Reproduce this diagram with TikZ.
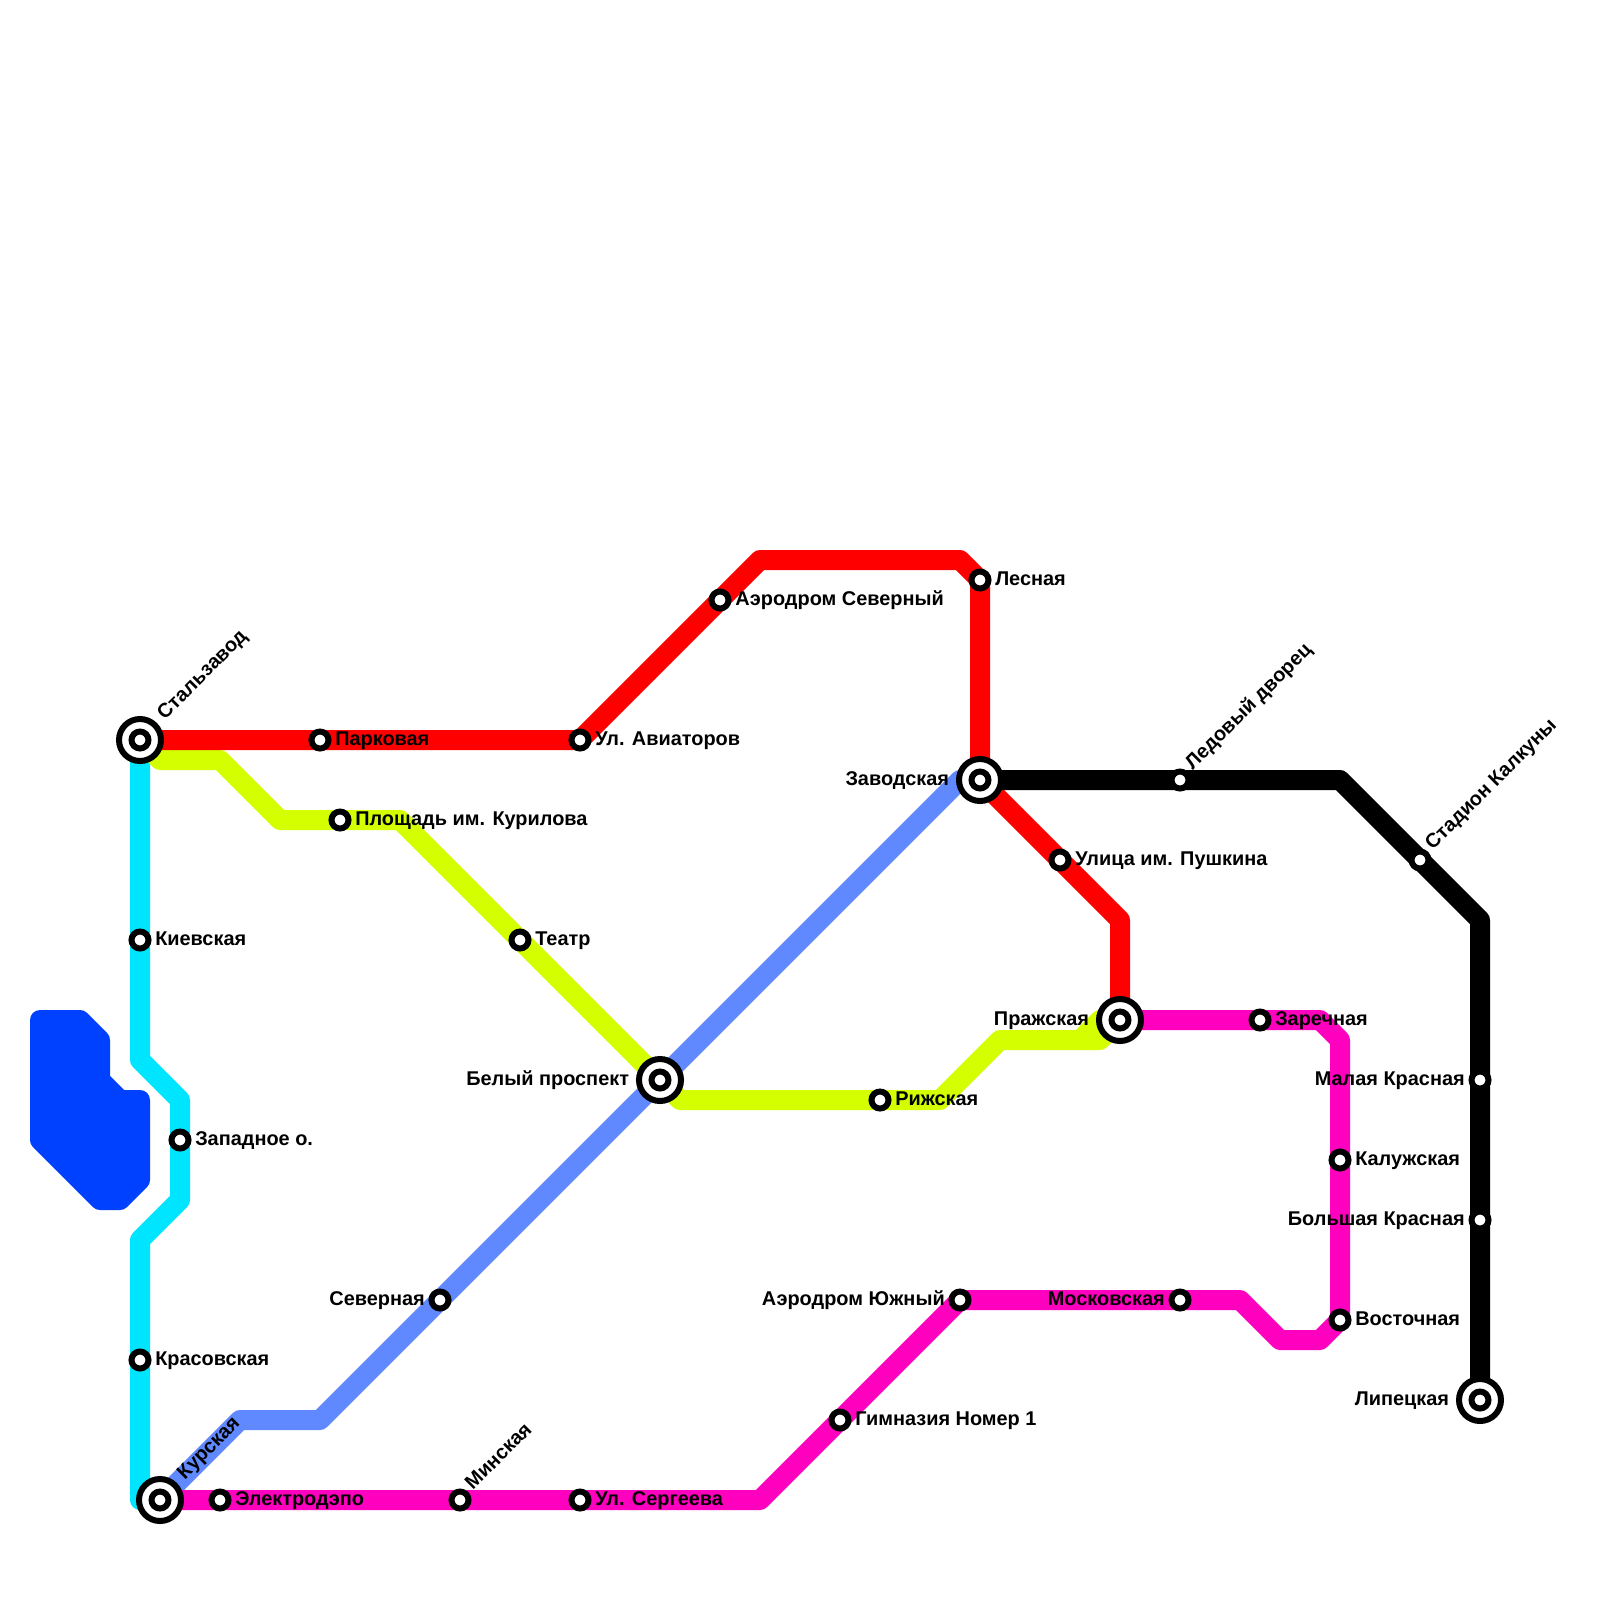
\documentclass[tikz,border=0pt]{standalone}
\usepackage{fontspec}
\setmainfont{Liberation Sans}
\usetikzlibrary{positioning,backgrounds}
\definecolor{redline}{HTML}{FF0000}
\definecolor{blackline}{HTML}{000000}
\definecolor{cyanline}{HTML}{00E5FF}
\definecolor{limeline}{HTML}{D4FF00}
\definecolor{pinkline}{HTML}{FF00BF}
\definecolor{skyline}{HTML}{6189FF}
\definecolor{water}{HTML}{0040FF}
\tikzset{
  metro/.style={line width=.25cm,line join=round},
  stop/.style={circle,draw=black,fill=white,line width=.075cm,inner sep=0pt,minimum size=.2125cm},
  hub/.style={stop,minimum size=.525cm,path picture={\draw[line width=.075cm,fill=white](path picture bounding box.center) circle (.106cm);}},
  txt/.style={font=\bfseries\fontsize{7.08}{8}\selectfont,inner sep=0pt,text height=3.8pt,text depth=0pt},
  slant/.style={txt,anchor=west,rotate=45},
}
\begin{document}
\begin{tikzpicture}[x=.25cm,y=-.25cm]
\useasboundingbox (0,0) rectangle (80,80);
\node[hub] (stalzavod) at (7,37) {};
\node[stop] (kievskaya) at (7,47) {};
\node[stop] (zapadnoe) at (9,57) {};
\node[stop] (krasovskaya) at (7,68) {};
\node[hub] (kurskaya) at (8,75) {};
\node[stop] (elektrodepo) at (11,75) {};
\node[stop] (minskaya) at (23,75) {};
\node[stop] (sergeeva) at (29,75) {};
\node[stop] (gimnaziya) at (42,71) {};
\node[stop] (yuzhny) at (48,65) {};
\node[stop] (moskovskaya) at (59,65) {};
\node[stop] (vostochnaya) at (67,66) {};
\node[stop] (kaluzhskaya) at (67,58) {};
\node[stop] (zarechnaya) at (63,51) {};
\node[hub] (prazhskaya) at (56,51) {};
\node[stop] (pushkina) at (53,43) {};
\node[hub] (zavodskaya) at (49,39) {};
\node[stop] (lesnaya) at (49,29) {};
\node[stop] (severny) at (36,30) {};
\node[stop] (aviatorov) at (29,37) {};
\node[stop] (parkovaya) at (16,37) {};
\node[stop] (kurilova) at (17,41) {};
\node[stop] (teatr) at (26,47) {};
\node[hub] (bely) at (33,54) {};
\node[stop] (rizhskaya) at (44,55) {};
\node[stop] (severnaya) at (22,65) {};
\node[stop] (ledovy) at (59,39) {};
\node[stop] (kalkuny) at (71,43) {};
\node[stop] (malaya) at (74,54) {};
\node[stop] (bolshaya) at (74,61) {};
\node[hub] (lipetskaya) at (74,70) {};
\begin{scope}[on background layer]
\fill[water,draw=water,metro] (2,51)--(4,51)--(5,52)--(5,54)--(6,55)--(7,55)--(7,59)--(6,60)--(5,60)--(2,57)--cycle;
\draw[cyanline,metro] (stalzavod.center)--(kievskaya.center)--(7,53)--(9,55)--(zapadnoe.center)--(9,60)--(7,62)--(krasovskaya.center)--(7,75)--(kurskaya.center);
\draw[limeline,metro] (stalzavod.center)--(8,38)--(11,38)--(14,41)--(kurilova.center)--(20,41)--(teatr.center)--(bely.center)--(34,55)--(rizhskaya.center)--(47,55)--(50,52)--(55,52)--(prazhskaya.center);
\draw[limeline,metro] (54,52)--(55,51)--(prazhskaya.center);
\draw[skyline,metro] (kurskaya.center)--(12,71)--(16,71)--(severnaya.center)--(bely.center)--(48,39)--(zavodskaya.center);
\draw[redline,metro] (stalzavod.center)--(parkovaya.center)--(aviatorov.center)--(severny.center)--(38,28)--(48,28)--(lesnaya.center)--(zavodskaya.center)--(pushkina.center)--(56,46)--(prazhskaya.center);
\draw[blackline,metro] (zavodskaya.center)--(ledovy.center)--(67,39)--(kalkuny.center)--(74,46)--(malaya.center)--(bolshaya.center)--(lipetskaya.center);
\draw[pinkline,metro] (kurskaya.center)--(elektrodepo.center)--(minskaya.center)--(sergeeva.center)--(38,75)--(gimnaziya.center)--(yuzhny.center)--(moskovskaya.center)--(62,65)--(64,67)--(66,67)--(vostochnaya.center)--(kaluzhskaya.center)--(67,52)--(66,51)--(zarechnaya.center)--(prazhskaya.center);
\end{scope}
\node[txt,right=.04cm of kievskaya] (kievskaya-t) {Киевская};
\node[txt,right=.04cm of zapadnoe] (zapadnoe-t) {Западное о.};
\node[txt,right=.04cm of krasovskaya] (krasovskaya-t) {Красовская};
\node[txt,right=.04cm of parkovaya] (parkovaya-t) {Парковая};
\node[txt,right=.04cm of kurilova] (kurilova-t) {Площадь им. Курилова};
\node[txt,right=.04cm of aviatorov] (aviatorov-t) {Ул. Авиаторов};
\node[txt,right=.04cm of severny] (severny-t) {Аэродром Северный};
\node[txt,right=.04cm of lesnaya] (lesnaya-t) {Лесная};
\node[txt,right=.04cm of pushkina] (pushkina-t) {Улица им. Пушкина};
\node[txt,right=.04cm of teatr] (teatr-t) {Театр};
\node[txt,right=.04cm of rizhskaya] (rizhskaya-t) {Рижская};
\node[txt,right=.04cm of zarechnaya] (zarechnaya-t) {Заречная};
\node[txt,right=.04cm of kaluzhskaya] (kaluzhskaya-t) {Калужская};
\node[txt,right=.04cm of vostochnaya] (vostochnaya-t) {Восточная};
\node[txt,right=.04cm of gimnaziya] (gimnaziya-t) {Гимназия Номер 1};
\node[txt,right=.04cm of sergeeva] (sergeeva-t) {Ул. Сергеева};
\node[txt,right=.04cm of elektrodepo] (elektrodepo-t) {Электродэпо};
\node[txt,left=.08cm of zavodskaya] (zavodskaya-t) {Заводская};
\node[txt,left=.08cm of bely] (bely-t) {Белый проспект};
\node[txt,left=.08cm of prazhskaya] (prazhskaya-t) {Пражская};
\node[txt,left=.08cm of lipetskaya] (lipetskaya-t) {Липецкая};
\node[txt,left=.04cm of severnaya] (severnaya-t) {Северная};
\node[txt,left=.04cm of yuzhny] (yuzhny-t) {Аэродром Южный};
\node[txt,left=.04cm of moskovskaya] (moskovskaya-t) {Московская};
\node[txt,left=.04cm of malaya] (malaya-t) {Малая Красная};
\node[txt,left=.04cm of bolshaya] (bolshaya-t) {Большая Красная};
\node[slant] (stalzavod-t) at ([shift={(.26cm,.29cm)}]stalzavod) {Стальзавод};
\node[slant] (kurskaya-t) at ([shift={(.26cm,.29cm)}]kurskaya) {Курская};
\node[slant] (minskaya-t) at ([shift={(.11cm,.16cm)}]minskaya) {Минская};
\node[slant] (ledovy-t) at ([shift={(.11cm,.16cm)}]ledovy) {Ледовый дворец};
\node[slant] (kalkuny-t) at ([shift={(.11cm,.16cm)}]kalkuny) {Стадион Калкуны};
\end{tikzpicture}
\end{document}
